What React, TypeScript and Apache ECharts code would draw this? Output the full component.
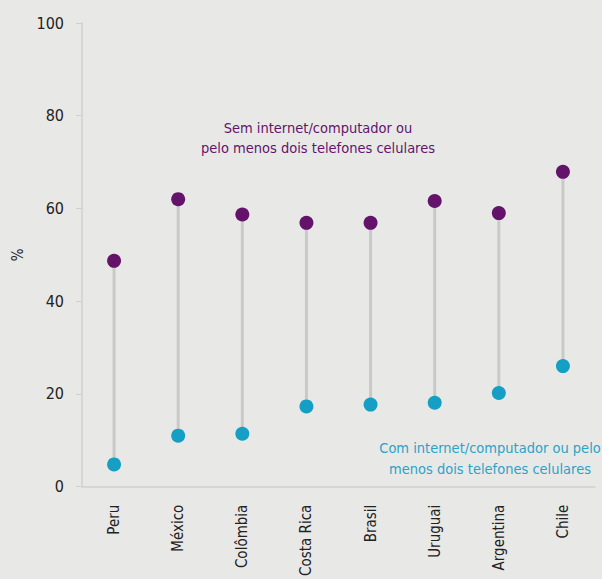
import React, { useEffect, useRef } from "react";
import * as echarts from "echarts";

const categories = ["Peru", "México", "Colômbia", "Costa Rica", "Brasil", "Uruguai", "Argentina", "Chile"];
const semInternet = [48.7, 62.0, 58.7, 56.9, 56.9, 61.6, 59.0, 67.9];
const comInternet = [4.8, 11.0, 11.4, 17.3, 17.7, 18.1, 20.2, 26.0];
const yTicks = { min: 0, max: 100, interval: 20 };

const FONT = '"Liberation Sans Narrow", "DejaVu Sans Condensed", "Roboto", sans-serif';
const PURPLE = "#63146a";
const CYAN = "#169fc4";
const BG = "#e8e9e7";

export default function App() {
  const ref = useRef<HTMLDivElement>(null);
  useEffect(() => {
    if (!ref.current) return;
    const chart = echarts.init(ref.current, undefined, { renderer: "svg" });
    const rangeData = categories.map((_, i) => [i, comInternet[i], semInternet[i]]);
    chart.setOption({
      animation: false,
      backgroundColor: BG,
      textStyle: { fontFamily: FONT },
      grid: { left: 82, right: 7, top: 23, bottom: 83, containLabel: false },
      xAxis: {
        type: "category",
        data: categories,
        boundaryGap: true,
        axisLine: { lineStyle: { color: "#cfd0cf", width: 1.5 } },
        axisTick: { show: false },
        axisLabel: { rotate: 90, margin: 18, fontSize: 15, color: "#222", fontFamily: FONT },
      },
      yAxis: {
        type: "value",
        min: yTicks.min,
        max: yTicks.max,
        interval: yTicks.interval,
        name: "%",
        nameLocation: "middle",
        nameGap: 52,
        nameTextStyle: { fontSize: 15, color: "#222", fontFamily: FONT },
        axisLine: { show: true, lineStyle: { color: "#cfd0cf", width: 1.5 } },
        axisTick: { show: true, length: 6, lineStyle: { color: "#cfd0cf" } },
        splitLine: { show: false },
        axisLabel: { margin: 18, fontSize: 16, color: "#222", fontFamily: FONT },
      },
      series: [
        {
          type: "custom",
          data: rangeData,
          encode: { x: 0, y: [1, 2] },
          z: 1,
          renderItem: (params: any, api: any) => {
            const p1 = api.coord([api.value(0), api.value(1)]);
            const p2 = api.coord([api.value(0), api.value(2)]);
            return {
              type: "line",
              shape: { x1: p1[0], y1: p1[1], x2: p2[0], y2: p2[1] },
              style: { stroke: "#c9c9c9", lineWidth: 3 },
            };
          },
        },
        {
          type: "scatter",
          data: semInternet,
          symbolSize: 14,
          z: 3,
          itemStyle: { color: PURPLE, opacity: 1 },
        },
        {
          type: "scatter",
          data: comInternet,
          symbolSize: 14,
          z: 3,
          itemStyle: { color: CYAN, opacity: 1 },
        },
      ],
      graphic: [
        {
          type: "text",
          x: 318,
          y: 118,
          style: {
            text: "Sem internet/computador ou\npelo menos dois telefones celulares",
            fill: PURPLE,
            font: `14.5px ${FONT}`,
            textAlign: "center",
            lineHeight: 20,
          },
        },
        {
          type: "text",
          x: 490,
          y: 437,
          style: {
            text: "Com internet/computador ou pelo\nmenos dois telefones celulares",
            fill: "#2aa3c9",
            font: `14.5px ${FONT}`,
            textAlign: "center",
            lineHeight: 21,
          },
        },
      ],
    });
    return () => chart.dispose();
  }, []);
  return (
    <div
      ref={ref}
      style={{ position: "absolute", left: 0, top: 0, width: 602, height: 579, background: BG }}
    />
  );
}
